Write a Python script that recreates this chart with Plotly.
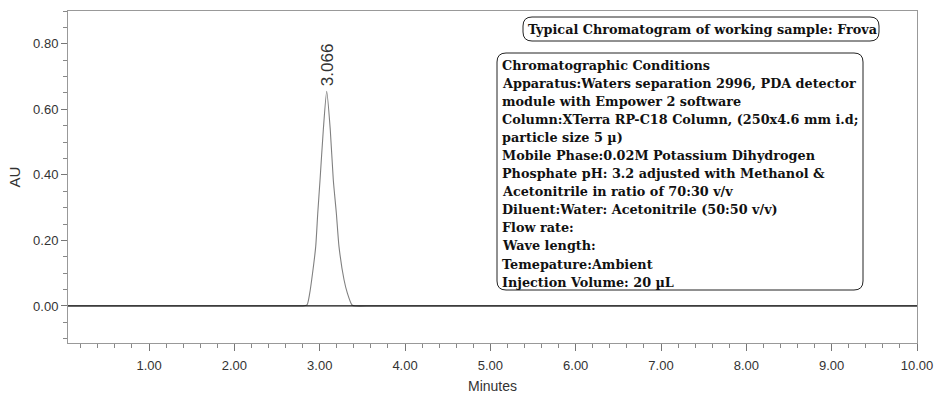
import plotly.graph_objects as go

# ---- data ----
time_min = [0.05, 1.0, 2.0, 2.5, 2.70, 2.80, 2.851, 2.883, 2.906, 2.953, 2.977, 3.004, 3.042, 3.082,
            3.124, 3.159, 3.195, 3.226, 3.285, 3.324, 3.378, 3.42, 3.6, 4.0, 6.0, 8.0, 10.0]
au_vals  = [0.0, 0.0, 0.0, 0.0, 0.0, 0.0, 0.003, 0.039, 0.080, 0.181, 0.283, 0.385, 0.537, 0.655,
            0.537, 0.385, 0.283, 0.181, 0.080, 0.039, 0.003, 0.0, 0.0, 0.0, 0.0, 0.0, 0.0]
peak_rt = 3.066
peak_au = 0.655
peak_label = "3.066"

title_text = "Typical Chromatogram of working sample: Frova"
cond_lines = [
    "Chromatographic Conditions",
    "Apparatus:Waters separation 2996, PDA detector",
    "module with Empower 2 software",
    "Column:XTerra RP-C18 Column, (250x4.6 mm i.d;",
    "particle size 5 \u00b5)",
    "Mobile Phase:0.02M Potassium Dihydrogen",
    "Phosphate pH: 3.2 adjusted with Methanol &",
    "Acetonitrile in ratio of 70:30 v/v",
    "Diluent:Water: Acetonitrile (50:50 v/v)",
    "Flow rate:",
    "Wave length:",
    "Temepature:Ambient",
    "Injection Volume: 20 \u00b5L",
]

W, H = 935, 394
ML, MR, MT, MB = 68, 18, 11, 51
PW, PH = W - ML - MR, H - MT - MB

def px(x):
    return (x - ML) / PW

def py(y):
    return (H - MB - y) / PH

def rounded_rect(x0, y0, x1, y1, r=9):
    X0, X1 = px(x0), px(x1)
    Y0, Y1 = py(y0), py(y1)
    rx, ry = r / PW, r / PH
    return (f"M {X0+rx},{Y0} L {X1-rx},{Y0} Q {X1},{Y0} {X1},{Y0-ry} "
            f"L {X1},{Y1+ry} Q {X1},{Y1} {X1-rx},{Y1} L {X0+rx},{Y1} "
            f"Q {X0},{Y1} {X0},{Y1+ry} L {X0},{Y0-ry} Q {X0},{Y0} {X0+rx},{Y0} Z")

fig = go.Figure()
fig.add_trace(go.Scatter(x=time_min, y=au_vals, mode="lines",
                         line=dict(color="#808080", width=1.1, shape="spline", smoothing=0.6),
                         showlegend=False, hoverinfo="skip"))
fig.add_trace(go.Scatter(x=[time_min[0], time_min[-1]], y=[0, 0], mode="lines",
                         line=dict(color="#111", width=1.3), showlegend=False, hoverinfo="skip"))

serif = "DejaVu Serif"
annotations = [
    dict(x=peak_rt, y=peak_au, xref="x", yref="y", text=peak_label, textangle=-90,
         showarrow=False, xanchor="center", yanchor="bottom", yshift=3, xshift=2,
         font=dict(family="Liberation Sans, Arial", size=17, color="#333")),
    dict(x=px(702), y=py(29), xref="paper", yref="paper", text="<b>" + title_text + "</b>",
         showarrow=False, xanchor="center", yanchor="middle",
         font=dict(family=serif, size=12.8, color="#111")),
]
for i, line in enumerate(cond_lines):
    annotations.append(dict(x=px(500), y=py(65 + i * 18.1), xref="paper", yref="paper",
                            text="<b>" + line + "</b>", showarrow=False,
                            xanchor="left", yanchor="middle",
                            font=dict(family=serif, size=12.8, color="#111")))

shapes = [
    dict(type="path", xref="paper", yref="paper", path=rounded_rect(523, 17, 879, 41),
         line=dict(color="#222", width=1)),
    dict(type="path", xref="paper", yref="paper", path=rounded_rect(497, 53, 863, 290),
         line=dict(color="#222", width=1)),
]

fig.update_layout(
    width=W, height=H,
    margin=dict(l=ML, r=MR, t=MT, b=MB, autoexpand=False),
    paper_bgcolor="white", plot_bgcolor="white",
    annotations=annotations, shapes=shapes,
    font=dict(family="Liberation Sans, Arial", color="#333"),
)
fig.update_xaxes(range=[0.05, 10.0], tickmode="linear", tick0=0, dtick=1, tickformat=".2f",
                 ticks="outside", ticklen=7, tickcolor="#777", showline=True, linecolor="#999",
                 linewidth=1, mirror=True, showgrid=False, zeroline=False, automargin=False,
                 tickfont=dict(size=13, color="#333"), ticklabelstandoff=3,
                 minor=dict(ticks="outside", ticklen=4, dtick=0.2, tick0=0, tickcolor="#888"),
                 title=dict(text="Minutes", font=dict(size=14, color="#333"), standoff=12))
fig.update_yaxes(range=[-0.113, 0.90], tickmode="linear", tick0=0, dtick=0.2, tickformat=".2f",
                 ticks="outside", ticklen=6, tickcolor="#777", showline=True, linecolor="#999",
                 linewidth=1, mirror=True, showgrid=False, zeroline=False, automargin=False,
                 tickfont=dict(size=13, color="#333"),
                 minor=dict(ticks="outside", ticklen=4, dtick=0.05, tick0=0, tickcolor="#888"),
                 title=dict(text="AU", font=dict(size=15, color="#333"), standoff=8))

fig.write_html("out.html", config={"displayModeBar": False},
               post_script="document.body.style.margin='0px';document.body.style.overflow='hidden';")
